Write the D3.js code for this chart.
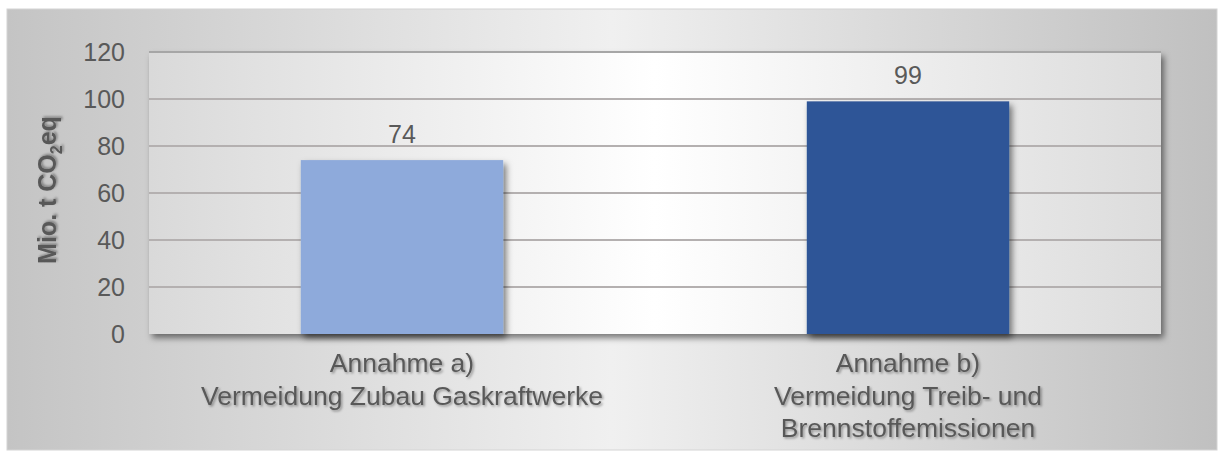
<!DOCTYPE html>
<html>
<head>
<meta charset="utf-8">
<script src="https://cdn.jsdelivr.net/npm/d3@7"></script>
<style>
  body { margin: 0; background: #fff; }
  svg { display: block; font-family: "Liberation Sans", Arial, sans-serif; }
</style>
</head>
<body>
<div id="chart-area"></div>
<script>
// data
const categories = ["a", "b"]
const values = [74, 99]
const colors = ["#8eaadb", "#2f5597"]
const catLabels = [
  ["Annahme a)", "Vermeidung Zubau Gaskraftwerke"],
  ["Annahme b)", "Vermeidung Treib- und", "Brennstoffemissionen"]
]
const yTicks = [0, 20, 40, 60, 80, 100, 120]

const W = 1220, H = 452
const plot = { left: 149, right: 1161, top: 52, bottom: 334 }

const svg = d3.select("#chart-area").append("svg")
  .attr("width", W)
  .attr("height", H)

const defs = svg.append("defs")

// gradients
const outerGrad = defs.append("linearGradient").attr("id", "outerGrad")
outerGrad.append("stop").attr("offset", "0%").attr("stop-color", "#c4c4c4")
outerGrad.append("stop").attr("offset", "50%").attr("stop-color", "#f0f0f0")
outerGrad.append("stop").attr("offset", "100%").attr("stop-color", "#c0c0c0")

const plotGrad = defs.append("linearGradient").attr("id", "plotGrad")
plotGrad.append("stop").attr("offset", "0%").attr("stop-color", "#d9d9d9")
plotGrad.append("stop").attr("offset", "50%").attr("stop-color", "#ffffff")
plotGrad.append("stop").attr("offset", "100%").attr("stop-color", "#dcdcdc")

const shadow = defs.append("filter").attr("id", "shadow")
  .attr("x", "-10%").attr("y", "-10%").attr("width", "130%").attr("height", "130%")
shadow.append("feDropShadow").attr("dx", 3).attr("dy", 4).attr("stdDeviation", 3)
  .attr("flood-color", "#000").attr("flood-opacity", 0.5)

const textShadow = defs.append("filter").attr("id", "textShadow")
  .attr("x", "-10%").attr("y", "-30%").attr("width", "120%").attr("height", "160%")
textShadow.append("feDropShadow").attr("dx", 1.5).attr("dy", 1.5).attr("stdDeviation", 1.2)
  .attr("flood-color", "#000").attr("flood-opacity", 0.35)

// outer frame
svg.append("rect")
  .attr("x", 7).attr("y", 9)
  .attr("width", 1210).attr("height", 441)
  .attr("fill", "url(#outerGrad)")
  .attr("stroke", "#d4d4d4")
  .attr("stroke-width", 1)

// scales
const x = d3.scaleBand()
  .domain(categories)
  .range([plot.left, plot.right])
  .paddingInner(0.6)
  .paddingOuter(0.3)

const y = d3.scaleLinear()
  .domain([0, 120])
  .range([plot.bottom, plot.top])

// plot area
svg.append("rect")
  .attr("x", plot.left).attr("y", plot.top)
  .attr("width", plot.right - plot.left)
  .attr("height", plot.bottom - plot.top)
  .attr("fill", "url(#plotGrad)")
  .attr("filter", "url(#shadow)")

// gridlines
svg.append("g")
  .selectAll("line")
  .data(yTicks.filter(d => d > 0))
  .enter().append("line")
  .attr("x1", plot.left).attr("x2", plot.right)
  .attr("y1", d => y(d)).attr("y2", d => y(d))
  .attr("stroke", d => d === 120 ? "#a6a6a6" : "#b4b0b0")
  .attr("stroke-width", 2)

// y axis
const yAxis = svg.append("g")
  .attr("transform", `translate(${plot.left - 24},0)`)
  .call(d3.axisLeft(y).tickValues(yTicks).tickSize(0).tickPadding(0))
yAxis.select(".domain").remove()
yAxis.selectAll("text")
  .attr("font-size", 25)
  .attr("fill", "#595959")
  .attr("font-family", "Liberation Sans, Arial, sans-serif")

// bars
svg.append("g")
  .selectAll("rect")
  .data(values)
  .enter().append("rect")
  .attr("x", (d, i) => x(categories[i]))
  .attr("y", d => y(d))
  .attr("width", x.bandwidth())
  .attr("height", d => y(0) - y(d))
  .attr("fill", (d, i) => colors[i])
  .attr("filter", "url(#shadow)")

// value labels
svg.append("g")
  .selectAll("text")
  .data(values)
  .enter().append("text")
  .attr("x", (d, i) => x(categories[i]) + x.bandwidth() / 2)
  .attr("y", d => y(d) - 17)
  .attr("text-anchor", "middle")
  .attr("font-size", 25)
  .attr("fill", "#595959")
  .text(d => d)

// category labels
const cat = svg.append("g")
  .selectAll("text")
  .data(catLabels)
  .enter().append("text")
  .attr("text-anchor", "middle")
  .attr("font-size", 26.5)
  .attr("fill", "#595959")
  .attr("filter", "url(#textShadow)")
  .attr("transform", (d, i) => `translate(${x(categories[i]) + x.bandwidth() / 2},372)`)

cat.selectAll("tspan")
  .data(d => d)
  .enter().append("tspan")
  .attr("x", 0)
  .attr("y", (d, i) => i * 32.5)
  .text(d => d)

// y axis title
const yTitle = svg.append("text")
  .attr("transform", `translate(56,190) rotate(-90)`)
  .attr("text-anchor", "middle")
  .attr("font-size", 25)
  .attr("font-weight", "bold")
  .attr("fill", "#595959")
  .attr("filter", "url(#textShadow)")
yTitle.append("tspan").text("Mio. t CO")
yTitle.append("tspan").attr("font-size", 16).attr("dy", 6).text("2")
yTitle.append("tspan").attr("dy", -6).text("eq")
</script>
</body>
</html>
